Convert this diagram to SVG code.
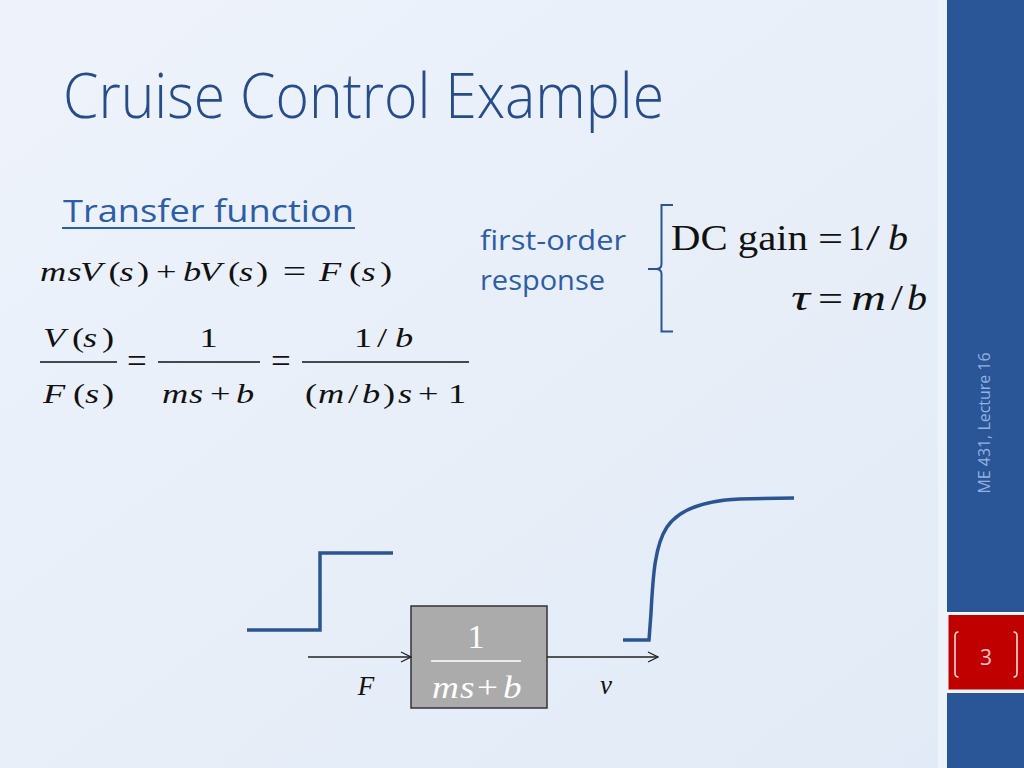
<svg xmlns="http://www.w3.org/2000/svg" width="1024" height="768" viewBox="0 0 1024 768">
  <defs>
    <linearGradient id="bg" x1="0" y1="0" x2="1" y2="1">
      <stop offset="0" stop-color="#EEF3FB"/>
      <stop offset="1" stop-color="#E1EAF6"/>
    </linearGradient>
    <marker id="arr" viewBox="0 0 12 12" refX="11" refY="6" markerWidth="12" markerHeight="12" markerUnits="userSpaceOnUse" orient="auto">
      <path d="M1,1 L11,6 L1,11" fill="none" stroke="#222" stroke-width="1.3"/>
    </marker>
    <style>
      .math { font-family: "Liberation Serif", "Times New Roman", serif; fill: #111; }
      .i { font-style: italic; }
      .ui { font-family: "Open Sans", "Noto Sans", "Liberation Sans", sans-serif; }
      .bar { stroke: #111; stroke-width: 1.4; }
      .sig { fill: none; stroke: #2B5592; stroke-width: 3.5; }
      .conn { fill: none; stroke: #222; stroke-width: 1.4; }
      .w { fill: #FFFFFF; }
    </style>
  </defs>

  <rect x="0" y="0" width="1024" height="768" fill="url(#bg)"/>
  <rect x="938" y="0" width="9" height="768" fill="#EEF3FA"/>

  <!-- sidebar -->
  <g id="sidebar">
    <rect x="947" y="0" width="77" height="768" fill="#2A5597"/>
    <rect x="947" y="612" width="77" height="81" fill="#F2F5FA"/>
    <rect x="948.5" y="615" width="75.5" height="74.5" fill="#C00000"/>
    <path d="M958.5,632 Q955,632 955,636 L955,673 Q955,677 958.5,677" fill="none" stroke="#F6DADA" stroke-width="1.6"/>
    <path d="M1013.5,632 Q1017,632 1017,636 L1017,673 Q1017,677 1013.5,677" fill="none" stroke="#F6DADA" stroke-width="1.6"/>
    <text x="986" y="665" text-anchor="middle" class="ui" font-size="21" fill="#F4C9C9">3</text>
    <text transform="translate(990,423) rotate(-90)" x="0" y="0" text-anchor="middle" class="ui" font-size="16.5" fill="#93B2E2" textLength="141" lengthAdjust="spacingAndGlyphs">ME 431, Lecture 16</text>
  </g>

  <!-- title -->
  <g id="title">
    <text x="63" y="118" class="ui" font-size="62" font-weight="300" fill="#264D8A" textLength="601" lengthAdjust="spacingAndGlyphs">Cruise Control Example</text>
  </g>

  <!-- transfer function heading -->
  <g id="tf-heading">
    <text x="63" y="222" class="ui" font-size="31" fill="#2C5DA6" textLength="291" lengthAdjust="spacingAndGlyphs">Transfer function</text>
    <line x1="62" y1="228" x2="355" y2="228" stroke="#2C5DA6" stroke-width="2"/>
  </g>

  <!-- equation 1 -->
  <g id="eq1" class="math" font-size="28">
    <text transform="scale(1.3,1)" y="281"><tspan class="i" x="30.8 51.9 61.5">msV</tspan><tspan x="83.5">(</tspan><tspan class="i" x="92">s</tspan><tspan x="105.4">)</tspan><tspan x="120">+</tspan><tspan class="i" x="140.8 153">bV</tspan><tspan x="175.4">(</tspan><tspan class="i" x="183.8">s</tspan><tspan x="197">)</tspan><tspan x="217.5" font-size="32" y="282">=</tspan><tspan class="i" x="245.4" y="281">F</tspan><tspan x="268.5">(</tspan><tspan class="i" x="278">s</tspan><tspan x="292.3">)</tspan></text>
  </g>

  <!-- equation 2 -->
  <g id="eq2" class="math" font-size="28">
    <text transform="scale(1.3,1)" y="347"><tspan class="i" x="33.1">V</tspan><tspan x="55.4">(</tspan><tspan class="i" x="63.8">s</tspan><tspan x="78.5">)</tspan></text>
    <line class="bar" x1="40" y1="362" x2="117" y2="362"/>
    <text transform="scale(1.3,1)" y="403"><tspan class="i" x="33.1">F</tspan><tspan x="56.2">(</tspan><tspan class="i" x="65.4">s</tspan><tspan x="78.5">)</tspan></text>
    <text x="127" y="373" font-size="35">=</text>
    <text transform="scale(1.3,1)" x="153.5" y="347">1</text>
    <line class="bar" x1="158" y1="362" x2="260" y2="362"/>
    <text transform="scale(1.3,1)" y="403"><tspan class="i" x="124.6 145.4">ms</tspan><tspan x="161.5">+</tspan><tspan class="i" x="181.5">b</tspan></text>
    <text x="271" y="373" font-size="35">=</text>
    <text transform="scale(1.3,1)" y="347"><tspan x="272.3">1</tspan><tspan x="290">/</tspan><tspan class="i" x="303.8">b</tspan></text>
    <line class="bar" x1="302" y1="362" x2="469" y2="362"/>
    <text transform="scale(1.3,1)" y="403"><tspan x="234.6">(</tspan><tspan class="i" x="244.6">m</tspan><tspan x="267.7">/</tspan><tspan class="i" x="278.5">b</tspan><tspan x="294.6">)</tspan><tspan class="i" x="306.2">s</tspan><tspan x="321.5">+</tspan><tspan x="344.6">1</tspan></text>
  </g>

  <!-- first-order response -->
  <g id="first-order">
    <text x="480" y="250" class="ui" font-size="27" fill="#2C5DA6" textLength="146" lengthAdjust="spacingAndGlyphs">first-order</text>
    <text x="480" y="290" class="ui" font-size="27" fill="#2C5DA6" textLength="125" lengthAdjust="spacingAndGlyphs">response</text>
    <path d="M673,205 L661.5,205 L661.5,264 Q661.5,269 656,269 L648,269 L656,269 Q661.5,269 661.5,274 L661.5,331.5 L673,331.5" fill="none" stroke="#2B5592" stroke-width="2"/>
    <g class="math" font-size="35">
      <text x="671" y="250" textLength="137" lengthAdjust="spacingAndGlyphs">DC gain</text>
      <text x="818" y="251" textLength="25" lengthAdjust="spacingAndGlyphs" font-size="36">=</text>
      <text x="848" y="250" textLength="17" lengthAdjust="spacingAndGlyphs">1</text>
      <text x="866" y="250" textLength="14" lengthAdjust="spacingAndGlyphs">/</text>
      <text x="888" y="250" class="i" textLength="20" lengthAdjust="spacingAndGlyphs">b</text>
    </g>
    <g class="math" font-size="35">
      <text x="791" y="310" class="i" textLength="19" lengthAdjust="spacingAndGlyphs">τ</text>
      <text x="818" y="311" textLength="25" lengthAdjust="spacingAndGlyphs" font-size="36">=</text>
      <text x="851" y="310" class="i" textLength="35" lengthAdjust="spacingAndGlyphs">m</text>
      <text x="891" y="310" textLength="12" lengthAdjust="spacingAndGlyphs">/</text>
      <text x="907" y="310" class="i" textLength="20" lengthAdjust="spacingAndGlyphs">b</text>
    </g>
  </g>

  <!-- signals -->
  <g id="step-input">
    <path class="sig" d="M247,630 L320,630 L320,553 L393,553"/>
  </g>
  <g id="step-response">
    <path class="sig" d="M623,640 L649,640 L651,613 C653,575 655,545 667,527 C682,505 715,500 740,499 L794,498"/>
  </g>

  <!-- block -->
  <g id="plant">
    <rect x="411" y="606" width="136" height="102" fill="#ABABAB" stroke="#333" stroke-width="1.5"/>
    <text x="476" y="648" text-anchor="middle" class="math w" font-size="34">1</text>
    <line x1="431" y1="661" x2="521" y2="661" stroke="#FFFFFF" stroke-width="1.6"/>
    <text transform="scale(1.2,1)" y="698" class="math w" font-size="31"><tspan class="i" x="360 383.3">ms</tspan><tspan x="397.5">+</tspan><tspan class="i" x="419.2">b</tspan></text>
  </g>

  <!-- connectors -->
  <g id="connectors">
    <line class="conn" x1="308" y1="657" x2="411" y2="657" marker-end="url(#arr)"/>
    <line class="conn" x1="547" y1="657" x2="658" y2="657" marker-end="url(#arr)"/>
  </g>

  <g id="labels">
    <text x="366" y="695" text-anchor="middle" class="math i" font-size="27">F</text>
    <text x="606" y="694" text-anchor="middle" class="math i" font-size="27">v</text>
  </g>
</svg>
